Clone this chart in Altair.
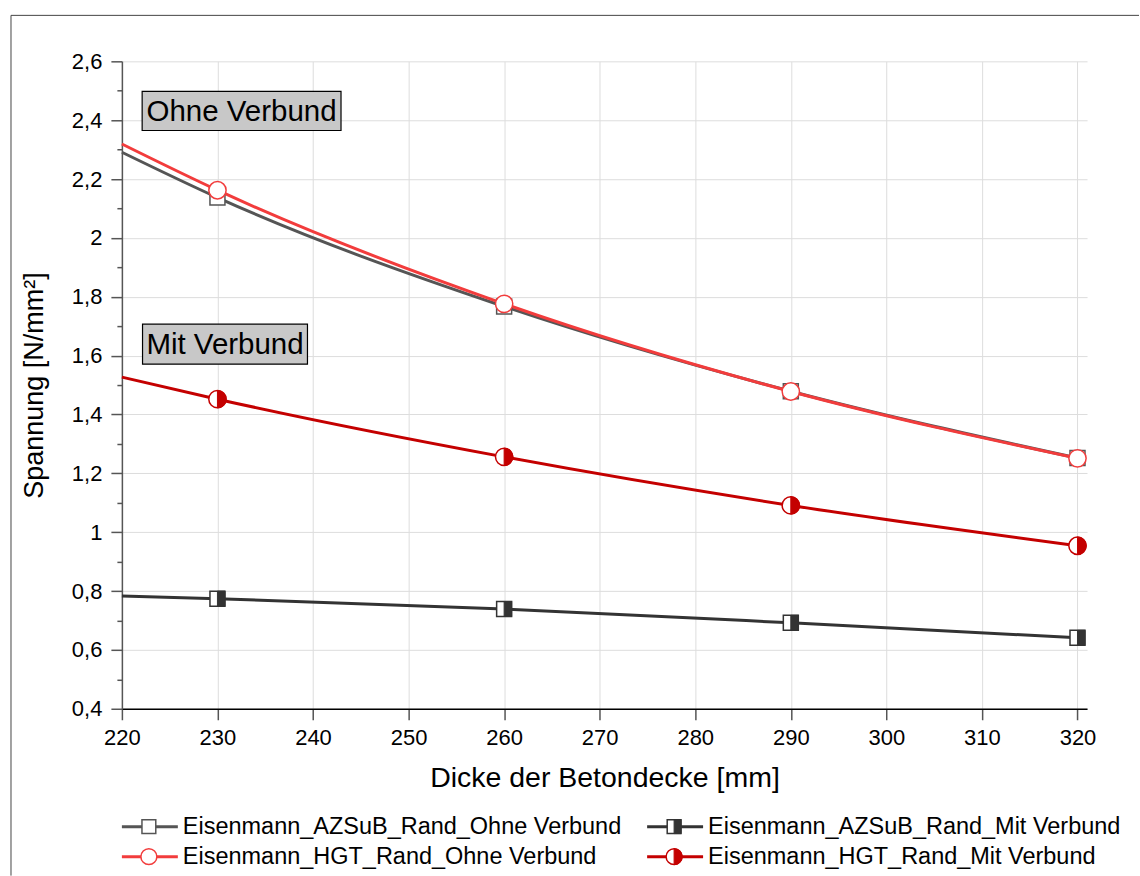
import altair as alt
import pandas as pd

# ---- data -------------------------------------------------------------
THICKNESS = [230, 260, 290, 320]          # Dicke der Betondecke [mm]
CURVE_START = 220                          # fitted curves begin here

SERIES = [
    "Eisenmann_AZSuB_Rand_Ohne Verbund",
    "Eisenmann_HGT_Rand_Ohne Verbund",
    "Eisenmann_AZSuB_Rand_Mit Verbund",
    "Eisenmann_HGT_Rand_Mit Verbund",
]
AZSUB_OHNE = [2.137, 1.767, 1.479, 1.252]
HGT_OHNE = [2.162, 1.776, 1.478, 1.251]
AZSUB_MIT = [0.774, 0.739, 0.692, 0.641]
HGT_MIT = [1.452, 1.256, 1.091, 0.954]
# curve values at 220 mm (line only, no measured marker)
START_VALUES = [2.291, 2.319, 0.783, 1.527]

X_TICKS = [220, 230, 240, 250, 260, 270, 280, 290, 300, 310, 320]
Y_TICKS = [0.4, 0.5, 0.6, 0.7, 0.8, 0.9, 1.0, 1.1, 1.2, 1.3, 1.4, 1.5,
           1.6, 1.7, 1.8, 1.9, 2.0, 2.1, 2.2, 2.3, 2.4, 2.5, 2.6]

ANNOTATION_TEXT = ["Ohne Verbund", "Mit Verbund"]
ANNOTATION_X = [222.12, 222.16]
ANNOTATION_X2 = [242.93, 239.42]
ANNOTATION_Y = [2.498, 1.707]
ANNOTATION_Y2 = [2.365, 1.571]

# ---- styling ----------------------------------------------------------
FONT = "Liberation Sans"
HALF_SQUARE = "M0,-1H1V1H0Z"
HALF_CIRCLE = "M0,-1A1,1,0,0,1,0,1Z"
STYLE = {
    SERIES[0]: dict(color="#555555", shape="square", half=None, size=225),
    SERIES[1]: dict(color="#f23c3c", shape="circle", half=None, size=300),
    SERIES[2]: dict(color="#333333", shape="square", half=HALF_SQUARE, size=225),
    SERIES[3]: dict(color="#c40000", shape="circle", half=HALF_CIRCLE, size=300),
}

rows = []
for name, start, vals in zip(SERIES, START_VALUES,
                             [AZSUB_OHNE, HGT_OHNE, AZSUB_MIT, HGT_MIT]):
    rows.append({"series": name, "dicke": CURVE_START, "spannung": start, "messpunkt": 0})
    for d, v in zip(THICKNESS, vals):
        rows.append({"series": name, "dicke": d, "spannung": v, "messpunkt": 1})
df = pd.DataFrame(rows)

ann = pd.DataFrame({
    "text": ANNOTATION_TEXT,
    "dicke": ANNOTATION_X, "dicke2": ANNOTATION_X2,
    "spannung": ANNOTATION_Y, "spannung2": ANNOTATION_Y2,
})
ann["xm"] = (ann["dicke"] + ann["dicke2"]) / 2
ann["ym"] = (ann["spannung"] + ann["spannung2"]) / 2

EVEN = "round(datum.value * 10) % 2 == 0"

x_axis = alt.Axis(
    values=X_TICKS, format="d", title="Dicke der Betondecke [mm]",
    labelFontSize=22, titleFontSize=28.5, titleFontWeight="normal",
    labelFont=FONT, titleFont=FONT, labelColor="#000", titleColor="#000",
    labelPadding=8, titlePadding=15, tickSize=11, tickWidth=1.5, tickColor="#555",
    domainColor="#000", domainWidth=1.5, grid=True, gridColor="#dddddd", gridWidth=1,
    labelFlush=False, labelOverlap=False,
)
y_axis = alt.Axis(
    values=Y_TICKS, title="Spannung [N/mm²]",
    labelExpr=f"{EVEN} ? replace(format(datum.value, '~g'), '.', ',') : ''",
    labelFontSize=22, titleFontSize=27, titleFontWeight="normal",
    labelFont=FONT, titleFont=FONT, labelColor="#000", titleColor="#000",
    labelPadding=9, titlePadding=23,
    tickSize={"condition": {"test": EVEN, "value": 11}, "value": 5},
    tickWidth=1.5, tickColor="#555", domainColor="#555", domainWidth=1.5,
    grid=True, gridColor="#dddddd", gridWidth=1,
    gridOpacity={"condition": {"test": EVEN, "value": 1}, "value": 0},
    labelFlush=False, labelOverlap=False,
)
x_scale = alt.Scale(domain=[220, 321], nice=False, zero=False)
y_scale = alt.Scale(domain=[0.4, 2.6], nice=False, zero=False)
x_enc = alt.X("dicke:Q", scale=x_scale, axis=x_axis)
y_enc = alt.Y("spannung:Q", scale=y_scale, axis=y_axis)

base = alt.Chart(df)

# outer figure frame: left and top edges of the surrounding box
one = alt.Data(values=[{}])
frame_top = alt.Chart(one).mark_rule(stroke="#444444", strokeWidth=1).encode(
    x=alt.value(-111), x2=alt.value(1018), y=alt.value(-46))
frame_left = alt.Chart(one).mark_rule(stroke="#444444", strokeWidth=1).encode(
    x=alt.value(-111), y=alt.value(-46), y2=alt.value(815))

lines = []
markers = []
for name in SERIES:
    st = STYLE[name]
    sel = base.transform_filter(alt.datum.series == name)
    lines.append(sel.mark_line(color=st["color"], strokeWidth=3, interpolate="monotone")
                 .encode(x=x_enc, y=y_enc))
    pts = sel.transform_filter(alt.datum.messpunkt == 1)
    markers.append(pts.mark_point(shape=st["shape"], size=st["size"], filled=True,
                                  fill="white", stroke=st["color"], strokeWidth=1.5, opacity=1)
                   .encode(x=x_enc, y=y_enc))
    if st["half"]:
        markers.append(pts.mark_point(shape=st["half"], size=st["size"], filled=True,
                                      fill=st["color"], stroke=st["color"], strokeWidth=1, opacity=1)
                       .encode(x=x_enc, y=y_enc))

ann_base = alt.Chart(ann)
ann_box = ann_base.mark_rect(fill="#c8c8c8", stroke="#000000", strokeWidth=1.2).encode(
    x=x_enc, x2="dicke2:Q", y=y_enc, y2="spannung2:Q")
ann_text = ann_base.mark_text(font=FONT, fontSize=29.5, color="#000", align="center",
                              baseline="middle", dy=1).encode(
    x=alt.X("xm:Q", scale=x_scale, axis=x_axis),
    y=alt.Y("ym:Q", scale=y_scale, axis=y_axis),
    text="text:N")

main = alt.layer(frame_top, frame_left, *lines, ann_box, ann_text, *markers).properties(
    width=966, height=648)

# ---- legend below the plot (two columns) ------------------------------
LEGEND_COL = [0, 0, 1, 1]
LEGEND_ROW = [0, 1, 0, 1]
leg = pd.DataFrame({"series": SERIES, "col": LEGEND_COL, "row": LEGEND_ROW})
leg_base = alt.Chart(leg).transform_calculate(
    xs="datum.col * 525.7", xe="datum.col * 525.7 + 56",
    xm="datum.col * 525.7 + 27", xt="datum.col * 525.7 + 61")
lx = alt.Scale(domain=[0, 966], nice=False, zero=False)
ly = alt.Y("row:Q", scale=alt.Scale(domain=[-0.5, 1.5], reverse=True, nice=False, zero=False), axis=None)

leg_layers = []
for name in SERIES:
    st = STYLE[name]
    sel = leg_base.transform_filter(alt.datum.series == name)
    leg_layers.append(sel.mark_rule(color=st["color"], strokeWidth=3).encode(
        x=alt.X("xs:Q", scale=lx, axis=None), x2="xe:Q", y=ly))
for name in SERIES:
    st = STYLE[name]
    sel = leg_base.transform_filter(alt.datum.series == name)
    leg_layers.append(sel.mark_point(shape=st["shape"], size=st["size"] * 0.85, filled=True,
                                     fill="white", stroke=st["color"], strokeWidth=1.5, opacity=1)
                      .encode(x=alt.X("xm:Q", scale=lx, axis=None), y=ly))
    if st["half"]:
        leg_layers.append(sel.mark_point(shape=st["half"], size=st["size"] * 0.85, filled=True,
                                         fill=st["color"], stroke=st["color"], strokeWidth=1, opacity=1)
                          .encode(x=alt.X("xm:Q", scale=lx, axis=None), y=ly))
leg_layers.append(leg_base.mark_text(font=FONT, fontSize=23.5, color="#000", align="left",
                                     baseline="middle").encode(
    x=alt.X("xt:Q", scale=lx, axis=None), y=ly, text="series:N"))

legend = alt.layer(*leg_layers).properties(width=966, height=60)

chart = alt.vconcat(main, legend, spacing=103, bounds="flush").properties(
    padding={"left": 10, "top": 14, "right": 0, "bottom": 0},
    background="white",
).configure_view(strokeWidth=0)

chart.save("out.html", embed_options={"renderer": "svg", "actions": False})
